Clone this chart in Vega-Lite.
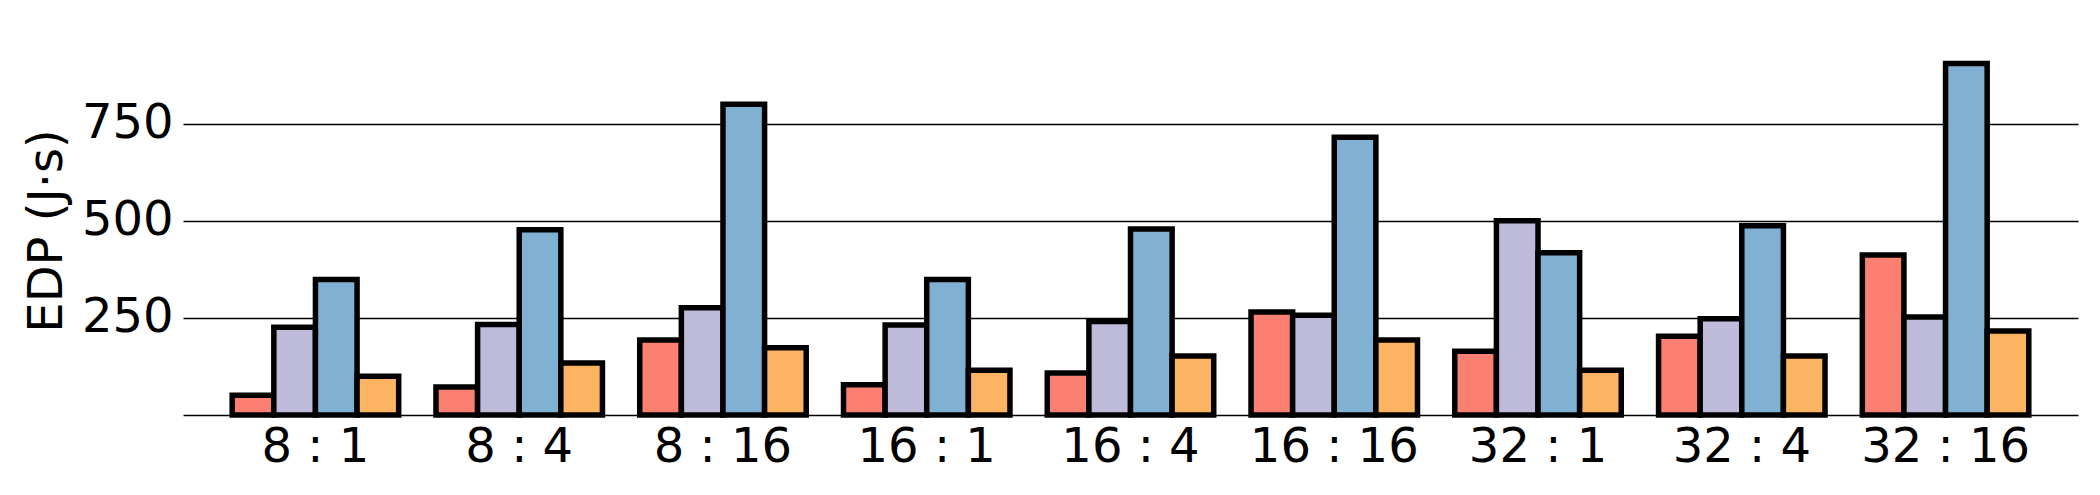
{
  "$schema": "https://vega.github.io/schema/vega-lite/v6.json",
  "autosize": {"type": "none"},
  "padding": {"left": 183, "top": 46, "right": 22, "bottom": 80},
  "width": 1895,
  "height": 369,
  "background": "white",
  "config": {"view": {"stroke": null}, "font": "DejaVu Sans"},
  "data": {"values": [
    {"cfg": "8 : 1", "s": "s1", "edp": 51},
    {"cfg": "8 : 1", "s": "s2", "edp": 226},
    {"cfg": "8 : 1", "s": "s3", "edp": 349},
    {"cfg": "8 : 1", "s": "s4", "edp": 100},
    {"cfg": "8 : 4", "s": "s1", "edp": 72},
    {"cfg": "8 : 4", "s": "s2", "edp": 233},
    {"cfg": "8 : 4", "s": "s3", "edp": 477},
    {"cfg": "8 : 4", "s": "s4", "edp": 134},
    {"cfg": "8 : 16", "s": "s1", "edp": 193},
    {"cfg": "8 : 16", "s": "s2", "edp": 276},
    {"cfg": "8 : 16", "s": "s3", "edp": 800},
    {"cfg": "8 : 16", "s": "s4", "edp": 173},
    {"cfg": "16 : 1", "s": "s1", "edp": 78},
    {"cfg": "16 : 1", "s": "s2", "edp": 232},
    {"cfg": "16 : 1", "s": "s3", "edp": 349},
    {"cfg": "16 : 1", "s": "s4", "edp": 115},
    {"cfg": "16 : 4", "s": "s1", "edp": 108},
    {"cfg": "16 : 4", "s": "s2", "edp": 241},
    {"cfg": "16 : 4", "s": "s3", "edp": 479},
    {"cfg": "16 : 4", "s": "s4", "edp": 152},
    {"cfg": "16 : 16", "s": "s1", "edp": 265},
    {"cfg": "16 : 16", "s": "s2", "edp": 257},
    {"cfg": "16 : 16", "s": "s3", "edp": 715},
    {"cfg": "16 : 16", "s": "s4", "edp": 193},
    {"cfg": "32 : 1", "s": "s1", "edp": 164},
    {"cfg": "32 : 1", "s": "s2", "edp": 500},
    {"cfg": "32 : 1", "s": "s3", "edp": 418},
    {"cfg": "32 : 1", "s": "s4", "edp": 115},
    {"cfg": "32 : 4", "s": "s1", "edp": 203},
    {"cfg": "32 : 4", "s": "s2", "edp": 248},
    {"cfg": "32 : 4", "s": "s3", "edp": 487},
    {"cfg": "32 : 4", "s": "s4", "edp": 152},
    {"cfg": "32 : 16", "s": "s1", "edp": 412},
    {"cfg": "32 : 16", "s": "s2", "edp": 252},
    {"cfg": "32 : 16", "s": "s3", "edp": 905},
    {"cfg": "32 : 16", "s": "s4", "edp": 216}
  ]},
  "mark": {"type": "bar", "stroke": "black", "strokeWidth": 5.5, "strokeJoin": "miter"},
  "encoding": {
    "x": {
      "field": "cfg", "type": "nominal", "sort": null,
      "scale": {"paddingInner": 0.183, "paddingOuter": 0.2415},
      "axis": {
        "title": null, "labelAngle": 0, "labelFontSize": 48, "labelColor": "black",
        "labelPadding": 8, "ticks": false, "domainColor": "black", "domainWidth": 1.5,
        "labelFont": "DejaVu Sans"
      }
    },
    "xOffset": {
      "field": "s", "type": "nominal", "sort": ["s1", "s2", "s3", "s4"],
      "scale": {"paddingInner": 0, "paddingOuter": 0}
    },
    "y": {
      "field": "edp", "type": "quantitative",
      "scale": {"domain": [0, 950], "nice": false},
      "axis": {
        "title": "EDP (J·s)", "titleFontSize": 48, "titleFontWeight": "normal", "titleColor": "black",
        "titlePadding": 10, "titleFont": "DejaVu Sans",
        "values": [250, 500, 750], "labelFontSize": 48, "labelColor": "black", "labelPadding": 10,
        "labelFont": "DejaVu Sans",
        "ticks": false, "domain": false, "grid": true, "gridColor": "black", "gridWidth": 1.5, "gridOpacity": 1
      }
    },
    "color": {
      "field": "s", "type": "nominal", "legend": null,
      "scale": {"domain": ["s1", "s2", "s3", "s4"], "range": ["#FB8072", "#BEBADA", "#80B1D3", "#FDB462"]}
    }
  }
}
